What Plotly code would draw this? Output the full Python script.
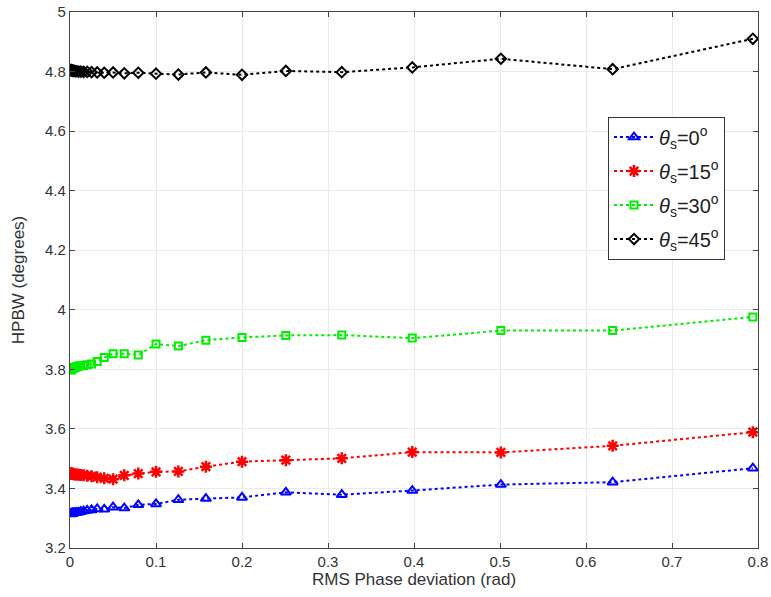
import plotly.graph_objects as go

# RMS phase deviation (rad), log-spaced samples
x_rms = [0.001, 0.00126, 0.00158, 0.002, 0.00251, 0.00316, 0.00398, 0.00501, 0.00631, 0.00794,
         0.01, 0.0126, 0.0158, 0.02, 0.0251, 0.0316, 0.0398, 0.0501, 0.0631, 0.0794,
         0.1, 0.126, 0.158, 0.2, 0.251, 0.316, 0.398, 0.501, 0.631, 0.794]

hpbw_0 = [3.314, 3.315, 3.315, 3.316, 3.316, 3.317, 3.317, 3.318, 3.318, 3.319,
          3.320, 3.322, 3.324, 3.326, 3.328, 3.331, 3.330, 3.337, 3.334, 3.345,
          3.348, 3.362, 3.366, 3.370, 3.387, 3.379, 3.393, 3.413, 3.421, 3.468]

hpbw_15 = [3.450, 3.450, 3.450, 3.449, 3.449, 3.449, 3.448, 3.448, 3.447, 3.447,
           3.446, 3.445, 3.444, 3.443, 3.441, 3.438, 3.434, 3.431, 3.444, 3.450,
           3.456, 3.457, 3.473, 3.490, 3.495, 3.501, 3.522, 3.521, 3.543, 3.589]

hpbw_30 = [3.798, 3.799, 3.800, 3.801, 3.802, 3.803, 3.804, 3.806, 3.807, 3.809,
           3.811, 3.812, 3.813, 3.815, 3.818, 3.826, 3.840, 3.852, 3.852, 3.848,
           3.885, 3.878, 3.898, 3.907, 3.914, 3.915, 3.905, 3.930, 3.930, 3.976]

hpbw_45 = [4.805, 4.805, 4.804, 4.804, 4.803, 4.803, 4.802, 4.802, 4.801, 4.801,
           4.800, 4.800, 4.799, 4.799, 4.798, 4.797, 4.796, 4.797, 4.794, 4.796,
           4.793, 4.790, 4.797, 4.789, 4.802, 4.798, 4.814, 4.843, 4.808, 4.910]

labels = ["<i>θ</i><sub>s</sub>=0<sup>o</sup>", "<i>θ</i><sub>s</sub>=15<sup>o</sup>",
          "<i>θ</i><sub>s</sub>=30<sup>o</sup>", "<i>θ</i><sub>s</sub>=45<sup>o</sup>"]

fig = go.Figure()
styles = [
    (hpbw_0, "#0000ff", "triangle-up-open", 9, 2),
    (hpbw_15, "#ff0000", "asterisk-open", 10, 2.5),
    (hpbw_30, "#00ee00", "square-open", 7, 2),
    (hpbw_45, "#000000", "diamond-open", 8, 2),
]
for i, ((ys, col, sym, sz, lw), lab) in enumerate(zip(styles, labels)):
    fig.add_trace(go.Scatter(
        x=x_rms, y=ys, mode="lines+markers", name=lab, legendgroup=f"g{i}",
        line=dict(color=col, width=2, dash="dot"),
        marker=dict(symbol=sym, size=sz, color=col, line=dict(color=col, width=lw)),
    ))

axis_common = dict(
    showgrid=True, gridcolor="#ebebeb", gridwidth=1,
    showline=True, linecolor="#444444", linewidth=1.2, mirror="ticks",
    ticks="inside", ticklen=5, tickcolor="#444444",
    tickfont=dict(family="Liberation Sans, Arial", size=15, color="#333333"),
    zeroline=False, automargin=False,
)

fig.update_xaxes(range=[0, 0.8], tickvals=[0, 0.1, 0.2, 0.3, 0.4, 0.5, 0.6, 0.7, 0.8],
                 ticktext=["0", "0.1", "0.2", "0.3", "0.4", "0.5", "0.6", "0.7", "0.8"],
                 title=dict(text="RMS Phase deviation (rad)", standoff=2,
                            font=dict(family="Liberation Sans, Arial", size=17, color="#333333")),
                 **axis_common)
fig.update_yaxes(range=[3.2, 5.0], tickvals=[3.2, 3.4, 3.6, 3.8, 4.0, 4.2, 4.4, 4.6, 4.8, 5.0],
                 ticktext=["3.2", "3.4", "3.6", "3.8", "4", "4.2", "4.4", "4.6", "4.8", "5"],
                 title=dict(text="HPBW (degrees)", standoff=16,
                            font=dict(family="Liberation Sans, Arial", size=17, color="#333333")),
                 **axis_common)

fig.update_layout(
    width=771, height=597,
    margin=dict(l=70, r=13, t=12, b=49),
    plot_bgcolor="white", paper_bgcolor="white",
    showlegend=True,
    legend=dict(x=0.782, y=0.805, xanchor="left", yanchor="top",
                bgcolor="white", bordercolor="#333333", borderwidth=1,
                font=dict(family="Liberation Sans, Arial", size=20, color="#222222"),
                tracegroupgap=5, itemwidth=40),
)

fig.write_html("out.html", config={"displayModeBar": False},
               post_script="document.body.style.margin='0px';document.body.style.overflow='hidden';")
